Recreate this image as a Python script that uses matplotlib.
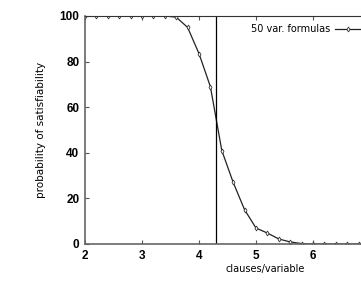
import matplotlib
matplotlib.use("Agg")
import matplotlib.pyplot as plt

# clauses/variable ratio and probability of satisfiability (%)
ratio = [2.0, 2.2, 2.4, 2.6, 2.8, 3.0, 3.2, 3.4, 3.6, 3.8, 4.0, 4.2, 4.4, 4.6,
         4.8, 5.0, 5.2, 5.4, 5.6, 5.8, 6.0, 6.2, 6.4, 6.6, 6.8]
prob = [100, 100, 100, 100, 100, 100, 100, 100, 99.5, 95, 83.5, 69, 41, 27,
        15, 7, 4.8, 2.2, 0.9, 0.2, 0, 0, 0, 0, 0]
threshold = 4.3
xticks = [2, 3, 4, 5, 6]
yticks = [0, 20, 40, 60, 80, 100]

fig = plt.figure(figsize=(3.61, 2.81), dpi=100)
ax = fig.add_axes([85 / 361, 37 / 281, 1.0, 228 / 281])

ax.plot(ratio, prob, color="#222222", lw=0.9, marker="d", ms=2.5,
        mfc="white", mec="#333333", mew=0.6, label="50 var. formulas")
ax.axvline(threshold, color="black", lw=0.9)

ax.set_xlim(2, 2 + 361 / 57)
ax.set_ylim(0, 100)
ax.set_xticks(xticks)
ax.set_yticks(yticks)
ax.tick_params(direction="in", length=3, width=0.8, color="#555555",
               top=True, labelsize=8.5, pad=4)
for lab in ax.get_xticklabels() + ax.get_yticklabels():
    lab.set_fontfamily("Liberation Sans")
    lab.set_fontweight("bold")

for side in ["left", "bottom"]:
    ax.spines[side].set_color("#666666")
    ax.spines[side].set_linewidth(1.2)
ax.spines["top"].set_color("#333333")
ax.spines["top"].set_linewidth(0.8)
ax.spines["right"].set_visible(False)

ax.set_xlabel("clauses/variable", fontsize=7, labelpad=2)
ax.set_ylabel("probability of satisfiability", fontsize=7.5, labelpad=10)

leg = ax.legend(loc="upper left", bbox_to_anchor=(251 / 361, 1 - 24 / 281),
                bbox_transform=fig.transFigure,
                frameon=False, fontsize=7, markerfirst=False,
                handlelength=2.6, handletextpad=0.5, borderaxespad=0,
                borderpad=0)

fig.savefig("out.png", dpi=100)
